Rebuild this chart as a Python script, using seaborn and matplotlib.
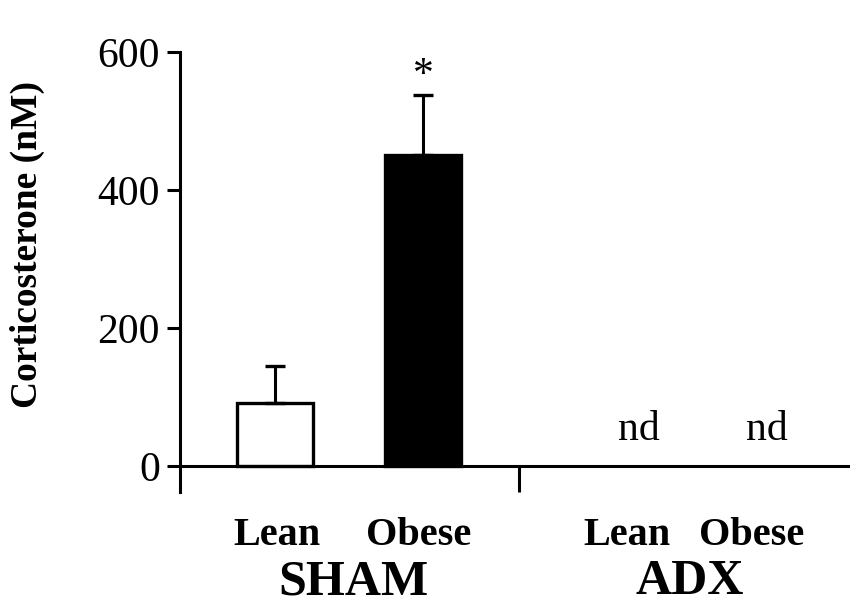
import numpy as np
import pandas as pd
import matplotlib
matplotlib.use("Agg")
import matplotlib.pyplot as plt
import seaborn as sns

# Plasma corticosterone (nM), mean + SEM; ADX values were not detectable (nd)
groups = ["SHAM", "SHAM", "ADX", "ADX"]
phenotypes = ["Lean", "Obese", "Lean", "Obese"]
corticosterone = [92, 450, np.nan, np.nan]
sem = [53, 87, np.nan, np.nan]
significance = ["", "*", "", ""]
y_ticks = [0, 200, 400, 600]

# horizontal layout (axis units)
bar_x = [1.0, 2.0, 3.46, 4.32]
label_x = [1.01, 1.97, 3.38, 4.22]
group_names = ["SHAM", "ADX"]
group_x = [1.53, 3.80]
separator_x = 2.65

sns.set_theme(style="ticks")
plt.rcParams["font.family"] = ["Liberation Serif", "DejaVu Serif"]

df = pd.DataFrame({
    "group": groups,
    "phenotype": phenotypes,
    "x": bar_x,
    "corticosterone": corticosterone,
    "sem": sem,
    "fill": ["white", "black", "white", "black"],
    "mark": significance,
})
detected = df.dropna(subset=["corticosterone"])

fig = plt.figure(figsize=(8.5, 6.07), dpi=100)
ax = fig.add_axes([180 / 850, 115 / 607, 670 / 850, 440 / 607])

sns.barplot(data=detected, x="x", y="corticosterone", native_scale=True,
            width=0.52, color="white", edgecolor="black", linewidth=2.4,
            errorbar=None, ax=ax, zorder=2)
for patch, fc in zip(ax.patches, detected["fill"]):
    patch.set_facecolor(fc)

ax.errorbar(detected["x"], detected["corticosterone"],
            yerr=[np.zeros(len(detected)), detected["sem"]],
            fmt="none", ecolor="black", elinewidth=2.2, capsize=7.5,
            capthick=2.4, zorder=3)

for _, row in detected.iterrows():
    if row["mark"]:
        ax.text(row["x"], row["corticosterone"] + row["sem"] + 1, row["mark"],
                ha="center", va="bottom", fontsize=30, color="black")

for _, row in df[df["corticosterone"].isna()].iterrows():
    ax.text(row["x"], 38, "nd", ha="center", va="baseline", fontsize=30,
            color="black")

ax.set_xlim(0.358, 4.885)
ax.set_ylim(-37.7, 600)
ax.spines["bottom"].set_position(("data", 0))
ax.spines["top"].set_visible(False)
ax.spines["right"].set_visible(False)
for side in ("left", "bottom"):
    ax.spines[side].set_linewidth(2.2)
    ax.spines[side].set_color("black")

ax.set_yticks(y_ticks)
ax.set_yticklabels([str(v) for v in y_ticks])
ax.tick_params(axis="y", direction="out", length=9.5, width=2.2, pad=5,
               labelsize=30, color="black", labelcolor="black")
ax.set_xticks([separator_x])
ax.set_xticklabels([""])
ax.tick_params(axis="x", direction="out", length=18.5, width=2.2,
               color="black")
ax.set_xlabel("")
ax.set_ylabel("")

for x, name in zip(label_x, phenotypes):
    ax.text(x, -114, name, ha="center", va="baseline", fontsize=29,
            fontweight="bold", color="black", clip_on=False)
for x, name in zip(group_x, group_names):
    ax.text(x, -186, name, ha="center", va="baseline", fontsize=36,
            fontweight="bold", color="black", clip_on=False)

fig.text(27 / 850, 1 - 244 / 607, "Corticosterone (nM)", rotation=90,
         ha="center", va="center", fontsize=27, fontweight="bold",
         color="black")

fig.savefig("out.png", dpi=100, facecolor="white")
